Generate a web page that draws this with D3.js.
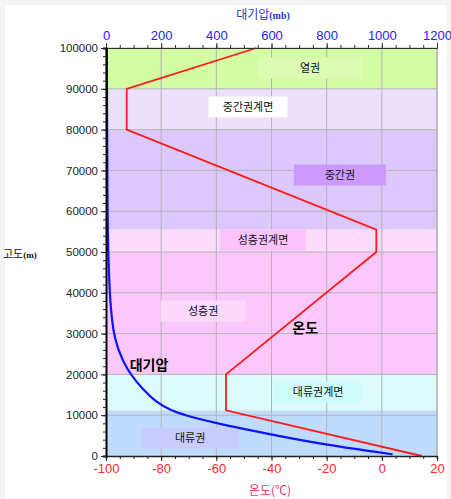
<!DOCTYPE html>
<html>
<head>
<meta charset="utf-8">
<script src="https://cdn.jsdelivr.net/npm/d3@7"></script>
<style>
  body { margin: 0; background: #f4f4f4; }
  svg { display: block; }
</style>
</head>
<body>
<svg id="chart"></svg>
<script>
// 고도 구간 (대기층)
const bandNames = ["대류권", "대류권계면", "성층권", "성층권계면", "중간권", "중간권계면", "열권"];
const bandLow = [0, 11200, 20000, 50000, 55500, 80000, 90000];
const bandHigh = [11200, 20000, 50000, 55500, 80000, 90000, 100000];

// 온도 곡선
const tempAlt = [0, 11200, 20000, 50000, 55500, 80000, 90000, 100000];
const tempVal = [14.5, -56.5, -56.5, -2, -2, -92.5, -92.5, -45.5];

// 대기압 곡선
const presAlt = [400, 900, 2700, 5000, 6600, 8010, 10000, 11270, 13300, 16180, 20000, 22700, 28400, 38000, 50000, 60000, 100000];
const presVal = [1039, 990, 801, 620, 500, 401, 285, 232, 180, 135, 89, 65, 29, 14, 8, 5, 3];

// 라벨 위치 (온도, 고도)
const labelTemp = [-69.5, -23.1, -64.8, -43.1, -15.2, -48.5, -26];
const labelAlt = [4410, 15690, 35540, 52940, 68870, 85540, 95100];

const tempTicks = [-100, -80, -60, -40, -20, 0, 20];
const presTicks = [0, 200, 400, 600, 800, 1000, 1200];
const altTicks = [0, 10000, 20000, 30000, 40000, 50000, 60000, 70000, 80000, 90000, 100000];

// 스타일
const bandColor = ["#c0dcfc", "#dcfcfc", "#fcc8fc", "#fcdcfc", "#dcc8fc", "#ece0fc", "#d4fca4"];
const boxColor = ["#c8ccfc", "#ccfcfc", "#fcd8fc", "#fcc4fc", "#cc99fc", "#ffffff", "#dcfcb4"];
const boxW = [98, 87, 85, 86, 92, 79, 105];

const W = 451, H = 499;
const margin = { left: 106, right: 437, top: 48, bottom: 456 };

const svg = d3.select("#chart").attr("width", W).attr("height", H);

svg.append("rect").attr("x", 5).attr("y", 5).attr("width", 442).attr("height", 494).attr("fill", "#fff");

const x = d3.scaleLinear().domain([-100, 20]).range([margin.left, margin.right]);
const xp = d3.scaleLinear().domain([0, 1200]).range([margin.left, margin.right]);
const y = d3.scaleLinear().domain([0, 100000]).range([margin.bottom, margin.top]);

const num = "'Liberation Sans', Arial, sans-serif";
const kor = "'Noto Sans CJK KR', sans-serif";

// 배경 구간
svg.selectAll(".band")
    .data(bandNames)
    .enter().append("rect")
    .attr("x", margin.left)
    .attr("y", (d, i) => y(bandHigh[i]))
    .attr("width", margin.right - margin.left)
    .attr("height", (d, i) => y(bandLow[i]) - y(bandHigh[i]))
    .attr("fill", (d, i) => bandColor[i]);

// 격자
svg.selectAll(".vgrid")
    .data(tempTicks.slice(1))
    .enter().append("line")
    .attr("x1", d => x(d)).attr("x2", d => x(d))
    .attr("y1", margin.top).attr("y2", margin.bottom)
    .attr("stroke", "#b4b4b4").attr("stroke-width", 1);

svg.selectAll(".hgrid")
    .data(altTicks.slice(1))
    .enter().append("line")
    .attr("x1", margin.left).attr("x2", margin.right)
    .attr("y1", d => y(d)).attr("y2", d => y(d))
    .attr("stroke", "#b4b4b4").attr("stroke-width", 1);

// 라벨 박스
const lab = svg.selectAll(".lab")
    .data(bandNames)
    .enter().append("g")
    .attr("transform", (d, i) => `translate(${x(labelTemp[i])},${y(labelAlt[i])})`);

lab.append("rect")
    .attr("x", (d, i) => -boxW[i] / 2)
    .attr("y", -10.5)
    .attr("width", (d, i) => boxW[i])
    .attr("height", 21)
    .attr("fill", (d, i) => boxColor[i]);

lab.append("text")
    .attr("text-anchor", "middle")
    .attr("dy", "0.36em")
    .style("font-family", kor)
    .style("font-size", "11px")
    .style("fill", "#111")
    .text(d => d);

// 대기압 곡선
const presLine = d3.line()
    .x((d, i) => xp(presVal[i]))
    .y((d, i) => y(presAlt[i]))
    .curve(d3.curveBasis);

svg.append("path")
    .datum(presAlt)
    .attr("d", presLine)
    .attr("fill", "none")
    .attr("stroke", "#0a14ff")
    .attr("stroke-width", 2.2);

// 온도 곡선
const tempLine = d3.line()
    .x((d, i) => x(tempVal[i]))
    .y((d, i) => y(tempAlt[i]));

svg.append("path")
    .datum(tempAlt)
    .attr("d", tempLine)
    .attr("fill", "none")
    .attr("stroke", "#ff1a1a")
    .attr("stroke-width", 1.8);

// 곡선 이름
svg.append("text")
    .attr("x", x(-27.8)).attr("y", y(31370))
    .attr("text-anchor", "middle").attr("dy", "0.36em")
    .style("font-family", kor).style("font-size", "14px").style("font-weight", "bold")
    .text("온도");

svg.append("text")
    .attr("x", x(-84.4)).attr("y", y(22300))
    .attr("text-anchor", "middle").attr("dy", "0.36em")
    .style("font-family", kor).style("font-size", "14px").style("font-weight", "bold")
    .text("대기압");

// 오른쪽 테두리
svg.append("line")
    .attr("x1", margin.right).attr("x2", margin.right).attr("y1", margin.top).attr("y2", margin.bottom)
    .attr("stroke", "#a8a8a8");

// 위쪽 축 (대기압)
const topAxis = svg.append("g")
    .attr("transform", `translate(0,${margin.top})`)
    .call(d3.axisTop(xp).tickValues(d3.range(0, 1201, 50)).tickSize(3).tickFormat(""));
topAxis.select(".domain").attr("stroke", "#333");
topAxis.selectAll(".tick line").attr("stroke", "#333");

const topMajor = svg.append("g")
    .attr("transform", `translate(0,${margin.top})`)
    .call(d3.axisTop(xp).tickValues(presTicks).tickSize(5).tickPadding(3).tickFormat(d => String(d)));
topMajor.select(".domain").remove();
topMajor.selectAll(".tick line").attr("stroke", "#333");
topMajor.selectAll("text")
    .style("font-family", num).style("font-size", "13px").style("fill", "#2222ff");

// 아래쪽 축 (온도)
const botAxis = svg.append("g")
    .attr("transform", `translate(0,${margin.bottom})`)
    .call(d3.axisBottom(x).tickValues(d3.range(-100, 21, 5)).tickSize(3).tickFormat(""));
botAxis.select(".domain").attr("stroke", "#222").attr("stroke-width", 1.5);
botAxis.selectAll(".tick line").attr("stroke", "#222");

const botMajor = svg.append("g")
    .attr("transform", `translate(0,${margin.bottom})`)
    .call(d3.axisBottom(x).tickValues(tempTicks).tickSize(5).tickPadding(3).tickFormat(d => String(d)));
botMajor.select(".domain").remove();
botMajor.selectAll(".tick line").attr("stroke", "#222");
botMajor.selectAll("text")
    .style("font-family", num).style("font-size", "13px").style("fill", "#ff2a2a");

// 왼쪽 축 (고도)
const leftAxis = svg.append("g")
    .attr("transform", `translate(${margin.left},0)`)
    .call(d3.axisLeft(y).tickValues(d3.range(0, 100001, 2000)).tickSize(3).tickFormat(""));
leftAxis.select(".domain").attr("stroke", "#000").attr("stroke-width", 2);
leftAxis.selectAll(".tick line").attr("stroke", "#222");

const leftMajor = svg.append("g")
    .attr("transform", `translate(${margin.left},0)`)
    .call(d3.axisLeft(y).tickValues(altTicks).tickSize(5).tickPadding(3).tickFormat(d => String(d)));
leftMajor.select(".domain").remove();
leftMajor.selectAll(".tick line").attr("stroke", "#222");
leftMajor.selectAll("text")
    .style("font-family", num).style("font-size", "11.5px").style("fill", "#222");

// 축 제목
const tTop = svg.append("text")
    .attr("x", 263).attr("y", 19)
    .attr("text-anchor", "middle")
    .style("fill", "#3333cc");
tTop.append("tspan").style("font-family", kor).style("font-size", "12px").text("대기압");
tTop.append("tspan").style("font-family", "'Liberation Serif', serif").style("font-size", "10px").style("font-weight", "bold").text("(mb)");

const tLeft = svg.append("text")
    .attr("x", 3).attr("y", 258)
    .style("fill", "#111");
tLeft.append("tspan").style("font-family", kor).style("font-size", "11px").text("고도");
tLeft.append("tspan").style("font-family", "'Liberation Serif', serif").style("font-size", "9px").style("font-weight", "bold").text("(m)");

svg.append("text")
    .attr("x", 270).attr("y", 495)
    .attr("text-anchor", "middle")
    .style("font-family", kor).style("font-size", "12px").style("fill", "#ee3366")
    .text("온도(℃)");
</script>
</body>
</html>
